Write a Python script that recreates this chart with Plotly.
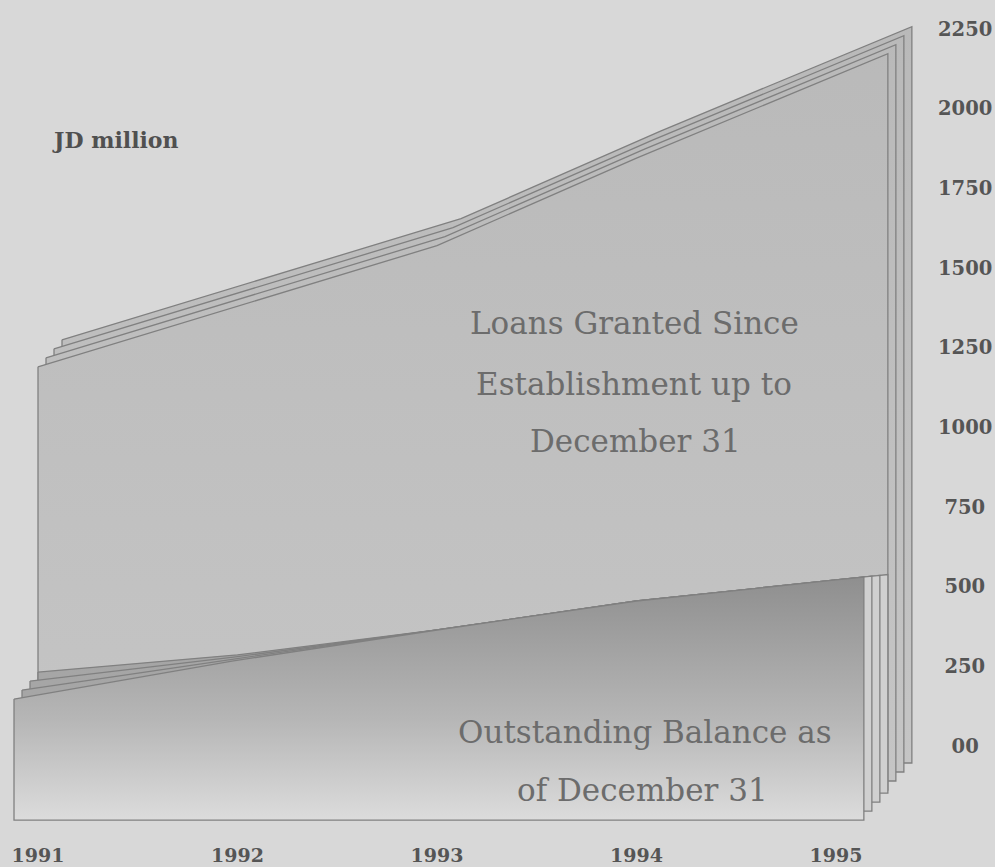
import plotly.graph_objects as go

# ---- data (JD million) ----
years = [1991, 1992, 1993, 1994, 1995]
loans_granted = [1190, 1380, 1570, 1845, 2105]
outstanding_balance = [232, 286, 364, 455, 521]

y_tick_values = [0, 250, 500, 750, 1000, 1250, 1500, 1750, 2000, 2250]
y_tick_labels = ["00", "250", "500", "750", "1000", "1250", "1500", "1750", "2000", "2250"]
x_tick_labels = ["1991", "1992", "1993", "1994", "1995"]

# ---- layout geometry ----
W, H = 995, 867
M_L, M_R, M_T, M_B = 0, 61, 0, 29
PLOT_W, PLOT_H = W - M_L - M_R, H - M_T - M_B
PX_PER_YEAR = 199.5
PX_PER_UNIT = 717 / 2250.0
X0_PX = 38          # where the first year sits inside the plot
ZERO_PX = 746       # where the zero value sits inside the plot

x_range = [years[0] - X0_PX / PX_PER_YEAR, years[0] + (PLOT_W - X0_PX) / PX_PER_YEAR]
y_range = [-(PLOT_H - ZERO_PX) / PX_PER_UNIT, 2250 + 29 / PX_PER_UNIT]

# stacked "sheets of paper" styling
OVERHANG = 0.26      # sheet runs a little past the last year
STEP_DX = 8          # px shift between sheets
STEP_DY = 9
N_SHEETS = 4
LOANS_FLOOR = -138
OUT_FLOOR = -148
TAPER = 1.3          # years over which the front sheets' top edges merge

BG = "#d8d8d8"
EDGE = "#808080"
TEXT = "#6c6c6c"
TICK = "#555555"


def sheet(xs, ys, floor, shift_x_px, shift_y_px, taper=None):
    """Closed outline of one sheet: series curve on top, flat bottom.

    With a taper the top edge keeps its shift only near the first year and
    then runs along the unshifted curve.
    """
    ox = shift_x_px / PX_PER_YEAR
    oy = shift_y_px / PX_PER_UNIT
    slope = ys[-1] - ys[-2]
    if taper is None:
        w = [1.0] * len(xs)
    else:
        w = [max(0.0, 1 - (x - xs[0]) / taper) for x in xs]
    top_x = [x + ox * wi for x, wi in zip(xs, w)]
    top_y = [y + oy * wi for y, wi in zip(ys, w)]
    # far corner: keep on the line of the last segment
    cx = xs[-1] + OVERHANG + ox
    if taper is None:
        cy = ys[-1] + slope * OVERHANG + oy
    else:
        cy = ys[-1] + slope * (OVERHANG + ox)
    px = top_x + [cx, cx, xs[0] + ox, top_x[0]]
    py = top_y + [cy, floor + oy, floor + oy, top_y[0]]
    return px, py


fig = go.Figure()

# Loans granted: front sheet carries the series, copies stack behind (up-right)
for k in reversed(range(N_SHEETS)):
    px, py = sheet(years, loans_granted, LOANS_FLOOR, k * STEP_DX, k * STEP_DY)
    fig.add_trace(go.Scatter(
        x=px, y=py, mode="lines", fill="toself",
        line=dict(color=EDGE, width=1.3),
        fillgradient=dict(type="vertical",
                          colorscale=[[0, "#c6c6c6"], [1, "#b9b9b9"]],
                          start=-300, stop=2300),
        hoverinfo="skip", showlegend=False,
    ))

# Outstanding balance: back sheet carries the series, copies stack in front (down-left)
out_front_floor = OUT_FLOOR - (N_SHEETS - 1) * STEP_DY / PX_PER_UNIT
for k in range(N_SHEETS):
    px, py = sheet(years, outstanding_balance, OUT_FLOOR, -k * STEP_DX, -k * STEP_DY, taper=TAPER)
    if k < N_SHEETS - 1:
        # sheets behind: pale paper edge showing on the right
        grad = dict(type="horizontal",
                    colorscale=[[0, "#a6a6a6"], [0.985, "#a2a2a2"], [0.99, "#d0d0d0"], [1, "#d0d0d0"]],
                    start=min(px), stop=max(px))
    else:
        grad = dict(type="vertical",
                    colorscale=[[0, "#dcdcdc"], [0.4, "#b6b6b6"], [1, "#8c8c8c"]],
                    start=out_front_floor, stop=560)
    fig.add_trace(go.Scatter(
        x=px, y=py, mode="lines", fill="toself",
        line=dict(color=EDGE, width=1.3),
        fillgradient=grad,
        hoverinfo="skip", showlegend=False,
    ))


def xp(px):
    return px / PLOT_W


def yp(py):
    return 1 - py / PLOT_H


serif = "DejaVu Serif"
labels = [
    ("Loans Granted Since", 634, 323),
    ("Establishment up to", 634, 384),
    ("December 31", 635, 441),
    ("Outstanding Balance as", 645, 732),
    ("of December 31", 642, 790),
]
for text, cx, cy in labels:
    fig.add_annotation(text=text, x=xp(cx), y=yp(cy), xref="paper", yref="paper",
                       xanchor="center", yanchor="middle", showarrow=False,
                       font=dict(family=serif, size=31, color=TEXT))

fig.add_annotation(text="<b>JD million</b>", x=xp(50), y=yp(140), xref="paper", yref="paper",
                   xanchor="left", yanchor="middle", showarrow=False,
                   font=dict(family=serif, size=22, color="#505050"))

# pad short labels so the column reads centred
pad = {2: "\u2007", 3: "\u2004", 4: ""}
fig.update_yaxes(
    side="right", range=y_range, tickvals=y_tick_values,
    ticktext=[pad[len(t)] + t for t in y_tick_labels],
    showgrid=False, zeroline=False, showline=False, ticks="",
    ticklabelstandoff=3,
    tickfont=dict(family=serif, size=19.5, color=TICK, weight="bold"),
)
fig.update_xaxes(
    range=x_range, tickvals=years, ticktext=x_tick_labels,
    showgrid=False, zeroline=False, showline=False, ticks="",
    ticklabelstandoff=4,
    tickfont=dict(family=serif, size=19, color=TICK, weight="bold"),
)
fig.update_layout(
    width=W, height=H,
    margin=dict(l=M_L, r=M_R, t=M_T, b=M_B),
    paper_bgcolor=BG, plot_bgcolor=BG,
    showlegend=False,
)

fig.write_html("out.html")
